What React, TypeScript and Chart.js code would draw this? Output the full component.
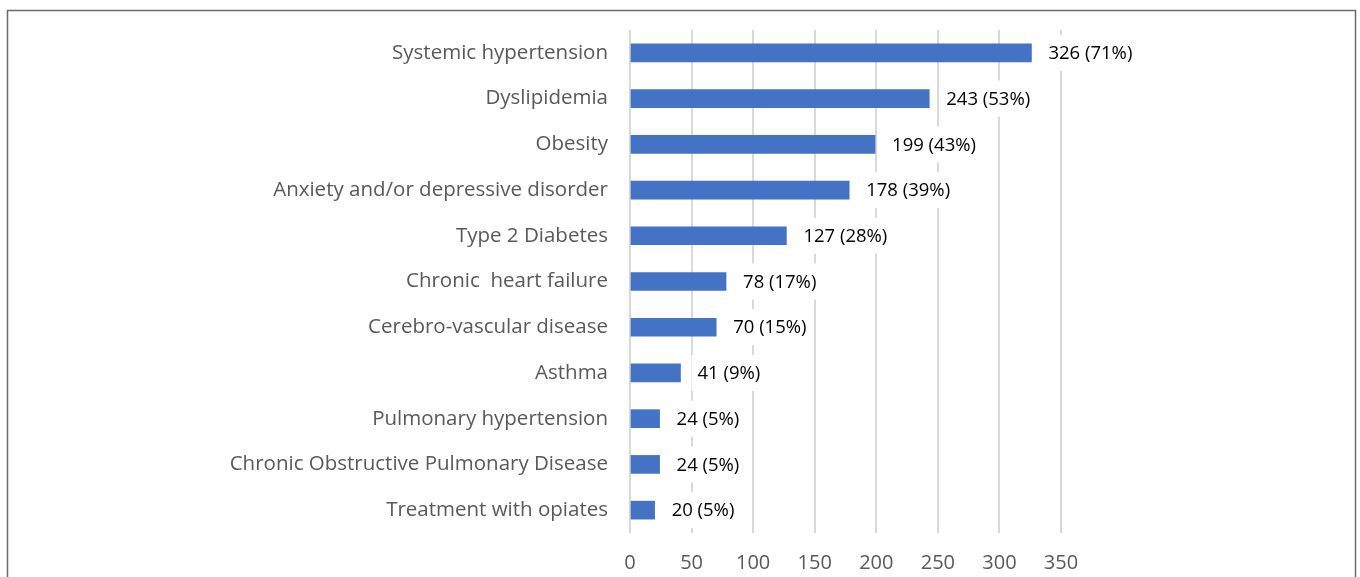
import React, { useEffect, useRef } from "react";
import { Chart, registerables } from "chart.js";

Chart.register(...registerables);

const categories = [
  "Systemic hypertension",
  "Dyslipidemia",
  "Obesity",
  "Anxiety and/or depressive disorder",
  "Type 2 Diabetes",
  "Chronic  heart failure",
  "Cerebro-vascular disease",
  "Asthma",
  "Pulmonary hypertension",
  "Chronic Obstructive Pulmonary Disease",
  "Treatment with opiates",
];
const counts = [326, 243, 199, 178, 127, 78, 70, 41, 24, 24, 20];
const percents = [71, 53, 43, 39, 28, 17, 15, 9, 5, 5, 5];
const xTicks = [0, 50, 100, 150, 200, 250, 300, 350];

const FONT = "'Open Sans', 'DejaVu Sans', sans-serif";

const frameAndLabels = {
  id: "frameAndLabels",
  afterDatasetsDraw(chart: any) {
    const ctx = chart.ctx;
    const meta = chart.getDatasetMeta(0);
    ctx.save();
    ctx.font = `18.5px ${FONT}`;
    ctx.textBaseline = "middle";
    ctx.textAlign = "left";
    meta.data.forEach((bar: any, i: number) => {
      const text = `${counts[i]} (${percents[i]}%)`;
      const w = ctx.measureText(text).width;
      const tx = bar.x + 17;
      ctx.fillStyle = "#ffffff";
      ctx.fillRect(tx - 6, bar.y - 18, w + 12, 36);
      ctx.fillStyle = "#000000";
      ctx.fillText(text, tx, bar.y + 1);
    });
    ctx.restore();
  },
  afterDraw(chart: any) {
    const ctx = chart.ctx;
    ctx.save();
    ctx.strokeStyle = "#6a6a6a";
    ctx.lineWidth = 1.5;
    ctx.strokeRect(7.5, 10.5, 1348, 620);
    ctx.restore();
  },
};

export default function App() {
  const ref = useRef<HTMLCanvasElement | null>(null);
  useEffect(() => {
    if (!ref.current) return;
    const chart = new Chart(ref.current, {
      type: "bar",
      data: {
        labels: categories,
        datasets: [
          {
            data: counts,
            backgroundColor: "#4472C4",
            borderWidth: 0,
            barThickness: 18,
          },
        ],
      },
      options: {
        indexAxis: "y",
        responsive: false,
        animation: false,
        devicePixelRatio: 1,
        layout: { padding: { left: 0, right: 299, top: 30, bottom: 0 } },
        plugins: {
          legend: { display: false },
          tooltip: { enabled: false },
        },
        scales: {
          x: {
            min: 0,
            max: 350,
            afterBuildTicks: (s: any) => {
              s.ticks = xTicks.map((v) => ({ value: v }));
            },
            afterFit: (s: any) => {
              s.height = 44;
              s.paddingLeft = 0;
              s.paddingRight = 0;
            },
            grid: {
              color: "#d9d9d9",
              lineWidth: 2,
              drawTicks: false,
            },
            border: { display: false },
            ticks: {
              padding: 18,
              color: "#595959",
              font: { family: FONT, size: 20 },
            },
          },
          y: {
            afterFit: (s: any) => {
              s.width = 630;
              s.paddingTop = 0;
              s.paddingBottom = 0;
            },
            grid: { display: false, drawTicks: false },
            border: { display: false },
            ticks: {
              padding: 22,
              color: "#595959",
              font: { family: FONT, size: 20.5 },
            },
          },
        },
      },
      plugins: [frameAndLabels],
    });
    return () => chart.destroy();
  }, []);
  return (
    <div style={{ position: "absolute", left: 0, top: 0, width: 1360, height: 577, background: "#fff" }}>
      <canvas ref={ref} width={1360} height={577} style={{ display: "block" }} />
    </div>
  );
}
